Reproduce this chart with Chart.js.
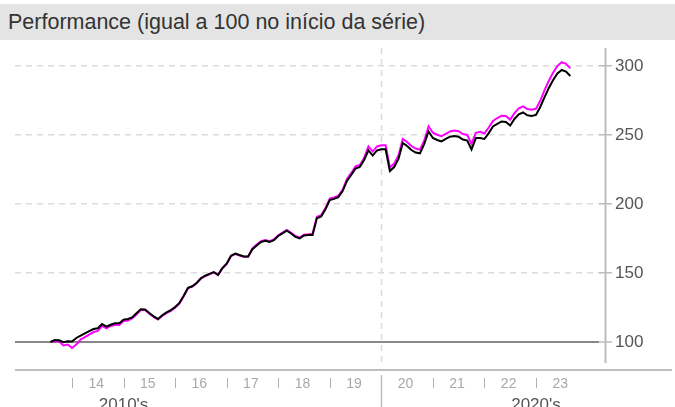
<!DOCTYPE html>
<html>
<head>
<meta charset="utf-8">
<script src="https://cdn.jsdelivr.net/npm/chart.js@4/dist/chart.umd.min.js"></script>
<style>
    body { margin: 0; background: #fff; }
    #wrap { position: relative; width: 675px; height: 407px; overflow: hidden; }
    #title {
        position: absolute; left: 0; top: 4px; width: 675px; height: 36px;
        background: #e4e4e4; color: #333; box-sizing: border-box; padding-left: 8px;
        font: 21.5px "Liberation Sans", Arial, sans-serif; line-height: 36px;
    }
    canvas { position: absolute; left: 0; top: 0; }
</style>
</head>
<body>
<div id="wrap">
    <div id="title">Performance (igual a 100 no início da série)</div>
    <canvas id="perfChart" width="675" height="407"></canvas>
</div>
<script>
// monthly series, first point = Aug 2013
const startYear = 2013;
const startMonth = 8;

const blackSeries = [
    100, 101.4, 101.2, 99.8, 100.5, 100.4, 102.9, 104.6, 106.2, 107.8,
    109.4, 109.9, 113.0, 111.1, 112.5, 113.6, 113.6, 116.2, 116.7, 117.8,
    120.8, 123.7, 123.6, 121.0, 118.6, 116.7, 119.4, 121.4, 123.1, 125.4,
    128.3, 133.5, 139.3, 140.4, 142.8, 146.2, 148.0, 149.4, 150.7, 148.7,
    153.6, 156.8, 162.5, 164.1, 163.0, 162.0, 162.0, 167.2, 170.0, 172.5,
    173.3, 172.5, 173.8, 176.8, 178.7, 180.6, 178.6, 176.2, 175.1, 177.2,
    177.5, 177.5, 189.7, 190.9, 196.1, 202.9, 203.7, 205.0, 209.4, 216.7,
    221.0, 225.7, 226.8, 231.9, 238.8, 235.1, 238.8, 239.6, 239.6, 223.9,
    226.8, 232.6, 244.2, 242.0, 239.1, 237.3, 236.7, 243.5, 252.5, 247.8,
    246.4, 245.3, 247.1, 248.8, 249.3, 248.7, 246.7, 246.0, 239.5, 247.8,
    247.8, 247.1, 251.4, 256.2, 258.1, 259.8, 259.4, 256.9, 261.6, 264.9,
    266.3, 264.3, 263.8, 264.5, 270.3, 277.5, 284.1, 289.9, 294.6, 297.1,
    296.0, 292.8
];

const magentaSeries = [
    100, 100.7, 100.4, 97.5, 98.2, 95.7, 98.2, 101.8, 103.6, 105.4,
    107.2, 108.0, 111.6, 109.8, 111.6, 112.3, 112.3, 115.2, 115.6, 117.0,
    119.9, 123.2, 123.2, 120.5, 118.1, 116.2, 118.9, 120.9, 122.6, 124.9,
    127.8, 133.2, 139.0, 140.1, 142.5, 145.9, 147.7, 149.1, 150.4, 148.4,
    153.3, 156.5, 162.2, 163.8, 162.7, 161.7, 161.7, 167.8, 170.6, 173.1,
    173.9, 173.1, 174.4, 177.4, 179.3, 181.2, 179.2, 176.8, 175.7, 177.8,
    178.1, 178.5, 190.7, 191.9, 197.1, 203.9, 204.7, 206.0, 210.4, 218.2,
    222.5, 227.2, 228.3, 233.4, 241.7, 238.0, 241.7, 242.5, 242.5, 226.4,
    229.3, 235.1, 247.1, 244.9, 242.0, 240.2, 239.4, 246.0, 256.3, 251.6,
    250.2, 249.1, 250.9, 252.6, 253.3, 252.7, 250.7, 250.0, 243.5, 251.6,
    252.3, 251.1, 255.4, 260.2, 262.3, 264.0, 263.8, 261.1, 265.8, 269.4,
    270.8, 268.8, 268.3, 269.0, 274.8, 282.5, 289.3, 295.3, 300.1, 302.7,
    301.5, 298.3
];

const yearTicks = [2014, 2015, 2016, 2017, 2018, 2019, 2020, 2021, 2022, 2023];
const yearLabels = ['14', '15', '16', '17', '18', '19', '20', '21', '22', '23'];
const decadeLabels = ["2010's", "2020's"];
const decadeCenters = [2015, 2023];
const decadeBreak = 2020;
const yTicks = [100, 150, 200, 250, 300];

// month positions as decimal years
const monthX = blackSeries.map((_, i) => startYear + (startMonth - 1 + i) / 12);
const toPoints = arr => arr.map((v, i) => ({ x: monthX[i], y: v }));

const FONT = '"Liberation Sans", Arial, sans-serif';

function line(ctx, x1, y1, x2, y2) {
    ctx.beginPath();
    ctx.moveTo(x1, y1);
    ctx.lineTo(x2, y2);
    ctx.stroke();
}

const decor = {
    id: 'decor',
    beforeDatasetsDraw(chart) {
        const { ctx, chartArea: a, scales: { x } } = chart;
        const px = Math.round(x.getPixelForValue(decadeBreak)) + 0.5;
        ctx.save();
        ctx.strokeStyle = '#dcdcdc';
        ctx.lineWidth = 1.5;
        ctx.setLineDash([6, 5]);
        line(ctx, px, a.top, px, a.bottom - 7);
        ctx.restore();
    },
    afterDraw(chart) {
        const { ctx, chartArea: a, scales: { x } } = chart;
        ctx.save();
        ctx.strokeStyle = '#bdbdbd';
        ctx.lineWidth = 2;
        // right axis line
        const ax = a.right + 6.5;
        line(ctx, ax, a.top, ax, a.bottom - 7);
        // bottom axis line
        line(ctx, a.left, a.bottom, chart.width - 3, a.bottom);

        // year marks and labels
        ctx.font = '14px ' + FONT;
        ctx.textAlign = 'center';
        ctx.textBaseline = 'middle';
        yearTicks.forEach((yr, i) => {
            const px = Math.round(x.getPixelForValue(yr)) + 0.5;
            if (yr === decadeBreak) {
                ctx.strokeStyle = '#bdbdbd';
                ctx.lineWidth = 1.5;
                line(ctx, px, a.bottom + 5, px, chart.height);
            } else {
                ctx.strokeStyle = '#b0b0b0';
                ctx.lineWidth = 1;
                line(ctx, px, a.bottom + 8, px, a.bottom + 18);
            }
            ctx.fillStyle = '#a8a8a8';
            ctx.fillText(yearLabels[i], x.getPixelForValue(yr + 0.47), a.bottom + 14);
        });

        // decade labels (partly cut by the bottom edge, as in the source)
        ctx.font = '17px ' + FONT;
        ctx.fillStyle = '#555';
        ctx.textBaseline = 'alphabetic';
        decadeLabels.forEach((lbl, i) => {
            ctx.fillText(lbl, x.getPixelForValue(decadeCenters[i]), a.bottom + 40);
        });
        ctx.restore();
    }
};

const ctx = document.getElementById('perfChart').getContext('2d');
const perfChart = new Chart(ctx, {
    type: 'line',
    data: {
        datasets: [{
            label: 'black',
            data: toPoints(blackSeries),
            borderColor: '#000000',
            borderWidth: 2,
            pointRadius: 0,
            tension: 0,
            order: 0
        }, {
            label: 'magenta',
            data: toPoints(magentaSeries),
            borderColor: '#ff00ff',
            borderWidth: 2,
            pointRadius: 0,
            tension: 0,
            order: 1
        }]
    },
    options: {
        responsive: false,
        animation: false,
        layout: { padding: { left: 15, top: 48, right: 0, bottom: 0 } },
        plugins: { legend: { display: false }, tooltip: { enabled: false } },
        scales: {
            x: {
                type: 'linear',
                min: 2012.894,
                max: 2024.223,
                grid: { display: false },
                border: { display: false },
                ticks: { display: false },
                afterFit(s) { s.height = 37; }
            },
            y: {
                position: 'right',
                min: 79.7,
                max: 313.04,
                afterBuildTicks(s) { s.ticks = yTicks.map(v => ({ value: v })); },
                afterFit(s) { s.width = 76; },
                grid: {
                    color: c => (c.tick && c.tick.value === 100) ? '#888888' : '#dcdcdc',
                    lineWidth: c => (c.tick && c.tick.value === 100) ? 2 : 1.5,
                    tickColor: '#bdbdbd',
                    tickLength: 13,
                    tickWidth: 1.5,
                    tickBorderDash: []
                },
                border: {
                    display: false,
                    dash: c => (c.tick && c.tick.value === 100) ? [] : [6, 5]
                },
                ticks: {
                    padding: 3,
                    color: '#555',
                    font: { family: FONT, size: 17 }
                }
            }
        }
    },
    plugins: [decor]
});
</script>
</body>
</html>
